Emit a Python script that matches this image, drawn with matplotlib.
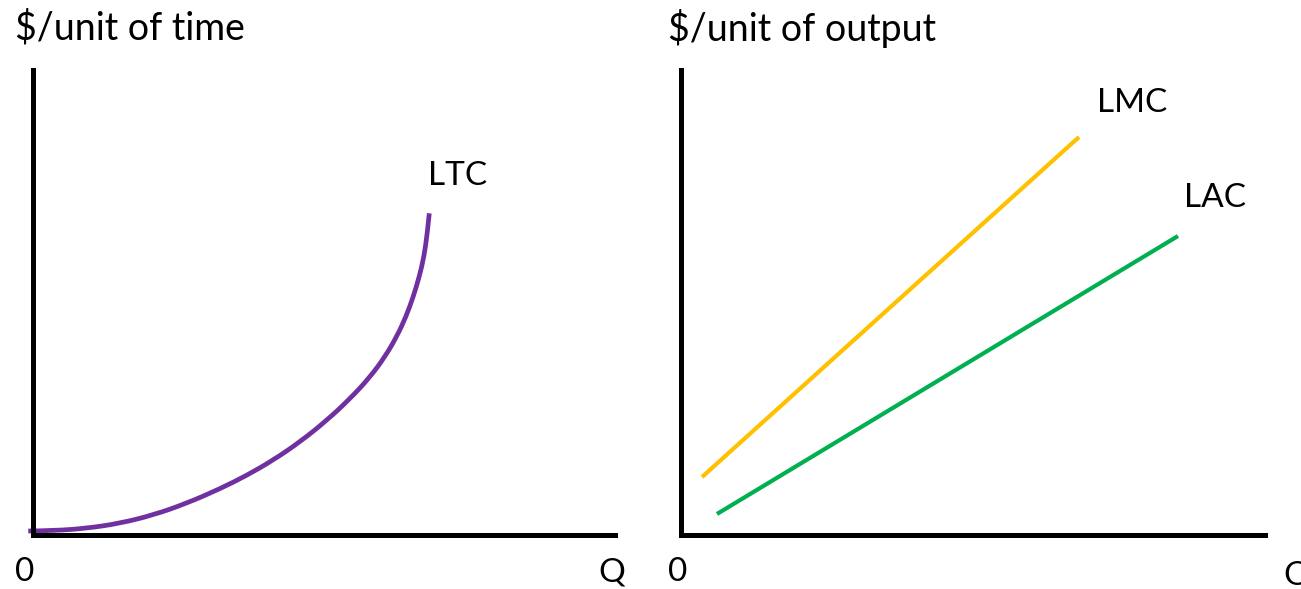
import matplotlib
matplotlib.use("Agg")
import matplotlib.pyplot as plt
from matplotlib.path import Path
from matplotlib.patches import PathPatch

plt.rcParams['font.family'] = ['Lato', 'DejaVu Sans']

# LTC curve (Q, $ per unit of time), axes run 0..100
ltc_q = [-0.81, 3.49, 9.23, 14.95, 20.67, 26.41, 32.13, 36.72, 41.29, 45.88, 50.46,
         54.47, 57.90, 60.48, 62.49, 64.09, 65.34, 66.37, 67.18, 67.75, 68.09]
ltc_c = [0.86, 0.92, 1.44, 2.52, 4.30, 6.82, 9.94, 12.81, 16.12, 20.03, 24.63,
         29.30, 33.95, 38.34, 42.65, 46.95, 51.25, 55.55, 59.85, 64.88, 69.18]

# long-run marginal and average cost, straight lines (end points)
lmc_q = [3.60, 68.15]
lmc_c = [12.47, 85.59]
lac_q = [6.16, 85.10]
lac_c = [4.52, 64.30]

fs = 24
fs_title = 27
W, H = 1301, 589
fig = plt.figure(figsize=(W / 100, H / 100), dpi=100)


def make_axes(x0, x1):
    ax = fig.add_axes([x0 / W, (H - 535) / H, (x1 - x0) / W, (535 - 70) / H])
    ax.set_xlim(0, 100)
    ax.set_ylim(0, 100)
    for s in ['top', 'right']:
        ax.spines[s].set_visible(False)
    for s in ['left', 'bottom']:
        ax.spines[s].set_linewidth(3.6)
        ax.spines[s].set_capstyle('projecting')
    ax.set_xticks([])
    ax.set_yticks([])
    ax.patch.set_alpha(0)
    return ax


def smooth_path(xs, ys):
    # quadratic bezier pieces through the midpoints, read points act as control points
    pts = list(zip(xs, ys))
    verts = [pts[0]]
    codes = [Path.MOVETO]
    for i in range(1, len(pts) - 1):
        p = pts[i]
        nxt = pts[i + 1]
        if i < len(pts) - 2:
            end = ((p[0] + nxt[0]) / 2, (p[1] + nxt[1]) / 2)
        else:
            end = nxt
        verts += [p, end]
        codes += [Path.CURVE3, Path.CURVE3]
    return Path(verts, codes)


ax1 = make_axes(33, 615)
ax1.add_patch(PathPatch(smooth_path(ltc_q, ltc_c), fill=False, edgecolor='#7030A0',
                        lw=3.4, clip_on=False, capstyle='butt'))
ax1.text(67.9, 77.2, 'LTC', fontsize=fs, ha='left', va='center')
ax1.text(-3.1, 109.0, '$/unit of time', fontsize=fs_title, ha='left', va='center', clip_on=False)
ax1.text(-3.1, -8.0, '0', fontsize=fs, ha='left', va='center', clip_on=False)
ax1.text(97.1, -8.0, 'Q', fontsize=fs, ha='left', va='center', clip_on=False)

ax2 = make_axes(681, 1265)
ax2.plot(lmc_q, lmc_c, color='#FFC000', lw=3, solid_capstyle='butt')
ax2.plot(lac_q, lac_c, color='#00B050', lw=3, solid_capstyle='butt')
ax2.text(71.2, 92.9, 'LMC', fontsize=fs, ha='left', va='center')
ax2.text(86.1, 72.5, 'LAC', fontsize=fs, ha='left', va='center')
ax2.text(-2.2, 109.0, '$/unit of output', fontsize=fs_title, ha='left', va='center', clip_on=False)
ax2.text(-2.2, -8.0, '0', fontsize=fs, ha='left', va='center', clip_on=False)
ax2.text(103.1, -8.8, 'Q', fontsize=fs, ha='left', va='center', clip_on=False)

fig.savefig('out.png', dpi=100, facecolor='white')
